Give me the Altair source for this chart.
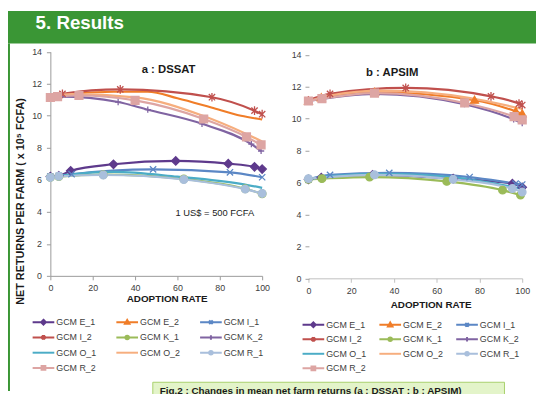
import altair as alt
import pandas as pd

FONT = "Liberation Sans"

SERIES = ["GCM E_1", "GCM E_2", "GCM I_1", "GCM I_2", "GCM K_1",
          "GCM K_2", "GCM O_1", "GCM O_2", "GCM R_1", "GCM R_2"]
COLORS = ["#5E3A8C", "#F07D28", "#5B87C5", "#C0504D", "#9BBB59",
          "#8064A2", "#4BACC6", "#F6AE7E", "#A9BFDC", "#DDA5A3"]
MARKERS = ["diamond", "triangle", "x", "asterisk", "circle",
           "plus", None, None, "circle", "square"]

X_TICKS = [0, 20, 40, 60, 80, 100]
Y_TICKS = [0, 2, 4, 6, 8, 10, 12, 14]

# ---- a : DSSAT ----
DSSAT_X = {
    "GCM E_1": [0, 4, 9.6, 29.8, 59.2, 84, 96.4, 100],
    "GCM E_2": [0, 5, 30, 46, 60, 76, 90, 100],
    "GCM I_1": [0, 4, 10, 48.5, 84.8, 100],
    "GCM I_2": [0, 5.7, 33, 76.3, 96.4, 100],
    "GCM K_1": [0, 4, 25, 63, 92, 100],
    "GCM K_2": [0, 5, 32, 46, 71.6, 94.9, 99.5],
    "GCM O_1": [0, 10, 30, 60, 90, 100],
    "GCM O_2": [0, 10, 40, 72, 92, 100],
    "GCM R_1": [0, 4, 25, 63, 92, 100],
    "GCM R_2": [0, 3.4, 13.5, 40, 72.4, 92.6, 99.5],
}
DSSAT_Y = {
    "GCM E_1": [6.2, 6.25, 6.56, 6.97, 7.18, 7.01, 6.81, 6.67],
    "GCM E_2": [11.2, 11.3, 11.5, 11.5, 11.1, 10.52, 10.0, 9.77],
    "GCM I_1": [6.2, 6.25, 6.35, 6.65, 6.47, 6.16],
    "GCM I_2": [11.15, 11.37, 11.65, 11.16, 10.32, 10.1],
    "GCM K_1": [6.15, 6.2, 6.32, 6.05, 5.44, 5.13],
    "GCM K_2": [11.15, 11.2, 10.86, 10.38, 9.5, 8.23, 7.8],
    "GCM O_1": [6.15, 6.35, 6.5, 6.2, 5.75, 5.5],
    "GCM O_2": [11.2, 11.35, 11.15, 10.0, 8.9, 8.4],
    "GCM R_1": [6.15, 6.22, 6.3, 6.02, 5.42, 5.15],
    "GCM R_2": [11.14, 11.2, 11.27, 10.96, 9.8, 8.68, 8.18],
}
DSSAT_NO_MARKERS = ["GCM E_2"]

# ---- b : APSIM ----
APSIM_X = {
    "GCM E_1": [0, 6, 30, 67.7, 95.4, 100],
    "GCM E_2": [0, 6, 31, 77.7, 97, 100],
    "GCM I_1": [0, 10.1, 37.8, 75.4, 96.9, 100],
    "GCM I_2": [0, 10.1, 45.5, 85.4, 98.5, 100],
    "GCM K_1": [0, 6.3, 28.6, 64.7, 90.8, 99.2],
    "GCM K_2": [0, 31, 73, 96, 100],
    "GCM O_1": [0, 10, 35, 70, 100],
    "GCM O_2": [0, 10, 35, 75, 100],
    "GCM R_1": [0, 30.9, 67.7, 95.4, 100],
    "GCM R_2": [0, 6.3, 30.9, 73.1, 96.2, 100],
}
APSIM_Y = {
    "GCM E_1": [6.2, 6.3, 6.48, 6.24, 5.93, 5.7],
    "GCM E_2": [11.1, 11.3, 11.65, 11.15, 10.45, 10.3],
    "GCM I_1": [6.2, 6.48, 6.6, 6.34, 5.93, 5.87],
    "GCM I_2": [11.15, 11.55, 11.92, 11.39, 10.94, 10.85],
    "GCM K_1": [6.2, 6.24, 6.34, 6.07, 5.52, 5.21],
    "GCM K_2": [11.1, 11.55, 10.9, 9.95, 9.71],
    "GCM O_1": [6.2, 6.4, 6.55, 6.3, 5.6],
    "GCM O_2": [11.1, 11.45, 11.75, 11.3, 10.6],
    "GCM R_1": [6.24, 6.48, 6.2, 5.62, 5.4],
    "GCM R_2": [11.1, 11.25, 11.6, 10.98, 10.12, 9.92],
}
APSIM_NO_MARKERS = []

# ---- marker styling ----
PLOT_PATH = {
    "diamond": "M0,-1L1,0L0,1L-1,0Z",
    "triangle": "M0,-1L1,0.75L-1,0.75Z",
    "x": "M-0.8,-0.8L0.8,0.8M-0.8,0.8L0.8,-0.8",
    "asterisk": "M-0.8,-0.8L0.8,0.8M-0.8,0.8L0.8,-0.8M0,-1.1L0,1.1",
    "circle": "circle",
    "plus": "M0,-1L0,1M-1,0L1,0",
    "square": "M-1,-1H1V1H-1Z",
}
PLOT_SIZE = {"diamond": 72, "triangle": 64, "x": 64, "asterisk": 64,
             "circle": 60, "plus": 40, "square": 64}


def legend_path(marker):
    # line across the symbol, small marker in the middle
    line = "M-1.833,0L1.833,0"
    shapes = {
        None: "",
        "diamond": "M0,-0.4L0.4,0L0,0.4L-0.4,0Z",
        "triangle": "M0,-0.38L0.38,0.28L-0.38,0.28Z",
        "x": "M-0.3,-0.3L0.3,0.3M-0.3,0.3L0.3,-0.3",
        "asterisk": "M-0.3,-0.3L0.3,0.3M-0.3,0.3L0.3,-0.3M0,-0.4L0,0.4",
        "circle": "M-0.3,0A0.3,0.3 0 1,1 0.3,0A0.3,0.3 0 1,1 -0.3,0Z",
        "plus": "M0,-0.38L0,0.38",
        "square": "M-0.32,-0.32H0.32V0.32H-0.32Z",
    }
    return line + shapes[marker]


LEG_PATHS = [legend_path(m) for m in MARKERS]

W, H = 536, 386


def panel(xs, ys, no_markers, x_range, y_range, x_axis, y_axis):
    rows = []
    for s in SERIES:
        for xv, yv in zip(xs[s], ys[s]):
            rows.append({"series": s, "x": xv, "y": yv})
    df = pd.DataFrame(rows)
    xenc = alt.X("x:Q", scale=alt.Scale(domain=[0, 100], range=x_range, nice=False, zero=False), axis=x_axis)
    yenc = alt.Y("y:Q", scale=alt.Scale(domain=[0, 14], range=y_range, nice=False), axis=y_axis)
    lines = alt.Chart(df).mark_line(interpolate="monotone", strokeWidth=2.2).encode(
        x=xenc, y=yenc,
        color=alt.Color("series:N", scale=alt.Scale(domain=SERIES, range=COLORS), legend=None),
    )
    layers = [lines]
    for s, c, m in zip(SERIES, COLORS, MARKERS):
        if m is None or s in no_markers:
            continue
        layers.append(
            alt.Chart(df).transform_filter(alt.datum.series == s).mark_point(
                shape=PLOT_PATH[m], size=PLOT_SIZE[m], filled=True, fill=c, stroke=c,
                strokeWidth=1.3, opacity=1,
            ).encode(x=xenc, y=yenc)
        )
    return alt.layer(*layers)


def legend_block(x_range, y_range):
    leg_df = pd.DataFrame({
        "series": SERIES,
        "col": [i % 3 for i in range(len(SERIES))],
        "row": [i // 3 for i in range(len(SERIES))],
    })
    lx = alt.X("col:Q", scale=alt.Scale(domain=[0, 2], range=x_range, nice=False, zero=False), axis=None)
    ly = alt.Y("row:Q", scale=alt.Scale(domain=[0, 3], range=y_range, nice=False, zero=False), axis=None)
    sym = alt.Chart(leg_df).mark_point(filled=True, opacity=1, strokeWidth=2, size=144).encode(
        x=lx, y=ly,
        fill=alt.Fill("series:N", scale=alt.Scale(domain=SERIES, range=COLORS), legend=None),
        stroke=alt.Stroke("series:N", scale=alt.Scale(domain=SERIES, range=COLORS), legend=None),
        shape=alt.Shape("series:N", scale=alt.Scale(domain=SERIES, range=LEG_PATHS), legend=None),
    )
    txt = alt.Chart(leg_df).mark_text(
        font=FONT, fontSize=9, color="#404040", align="left", baseline="middle", dx=13,
    ).encode(x=lx, y=ly, text="series:N")
    return alt.layer(sym, txt)


common_label = dict(labelFont=FONT, labelFontSize=9, labelColor="#404040",
                    labelFlush=False, grid=False, tickSize=4)

ax_a_x = alt.Axis(values=X_TICKS, orient="bottom", offset=-(H - 269), domainColor="#9A9A9A",
                  tickColor="#9A9A9A", labelPadding=4, title="ADOPTION RATE", titleFont=FONT,
                  titleFontSize=10, titleFontWeight="bold", titleColor="#1A1A1A",
                  titleX=161, titleY=23, titleBaseline="middle", **common_label)
ax_a_y = alt.Axis(values=Y_TICKS, orient="left", offset=-43, domainColor="#9A9A9A",
                  tickColor="#9A9A9A", labelPadding=5,
                  title="NET RETURNS PER FARM ( x 10\u2075 FCFA)", titleFont=FONT,
                  titleFontSize=11, titleFontWeight="bold", titleColor="#1A1A1A",
                  titleX=-30, titleY=193, titleAngle=270, titleBaseline="middle", **common_label)
ax_b_x = alt.Axis(values=X_TICKS, orient="bottom", offset=-(H - 271.5), domainColor="#BFBFBF",
                  tickColor="#BFBFBF", labelPadding=4, title="ADOPTION RATE", titleFont=FONT,
                  titleFontSize=10, titleFontWeight="bold", titleColor="#1A1A1A",
                  titleX=429, titleY=26.5, titleBaseline="middle", **common_label)
ax_b_y = alt.Axis(values=Y_TICKS, orient="left", offset=-305.5, domain=False,
                  tickColor="#A0A0A0", labelPadding=4, title=None, **common_label)

panel_a = panel(DSSAT_X, DSSAT_Y, DSSAT_NO_MARKERS, [43, 258], [269, 41.5], ax_a_x, ax_a_y)
panel_b = panel(APSIM_X, APSIM_Y, APSIM_NO_MARKERS, [305, 522], [271.5, 44.5], ax_b_x, ax_b_y)
legend_a = legend_block([36, 206], [316, 362.5])
legend_b = legend_block([310, 466], [318.7, 362.8])

one = pd.DataFrame({"k": [0]})
GREEN = "#3A9635"


def rect(x1, x2, y1, y2, **kw):
    return alt.Chart(one).mark_rect(**kw).encode(
        x=alt.value(x1), x2=alt.value(x2), y=alt.value(y1), y2=alt.value(y2))


def label(txt, x, y, **kw):
    return alt.Chart(one).mark_text(text=txt, font=FONT, **kw).encode(x=alt.value(x), y=alt.value(y))


header = rect(0, W, 0, 33, color=GREEN)
border = rect(0, 2, 33, H, color=GREEN)
header_text = label("5. Results", 28, 18, fontSize=19, fontWeight="bold", color="white",
                    align="left", baseline="alphabetic")
title_a = label("a : DSSAT", 163, 63, fontSize=11.5, fontWeight="bold", color="#1A1A1A",
                align="center", baseline="alphabetic")
title_b = label("b : APSIM", 390, 66, fontSize=11.5, fontWeight="bold", color="#1A1A1A",
                align="center", baseline="alphabetic")
note = label("1 US$ = 500 FCFA", 210, 208.7, fontSize=9.5, color="#222222",
             align="center", baseline="alphabetic")
cap_box = rect(147, 504, 377, 395, fill="#E3F4C9", stroke="#A8D06C", strokeWidth=1)
cap_text = label("Fig.2 : Changes in mean net farm returns (a : DSSAT ; b : APSIM)", 154, 389,
                 fontSize=10, fontWeight="bold", color="#1A1A1A", align="left", baseline="alphabetic")

chart = alt.layer(
    header, border, header_text, title_a, title_b, note, panel_a, panel_b,
    legend_a, legend_b, cap_box, cap_text
).resolve_scale(
    x="independent", y="independent", color="independent",
    fill="independent", stroke="independent", shape="independent",
).properties(
    width=W, height=H, autosize=alt.AutoSizeParams(type="none"), padding=0,
    background="white",
).configure_view(strokeWidth=0)

chart.save("out.html", embed_options={"renderer": "svg", "actions": False})
